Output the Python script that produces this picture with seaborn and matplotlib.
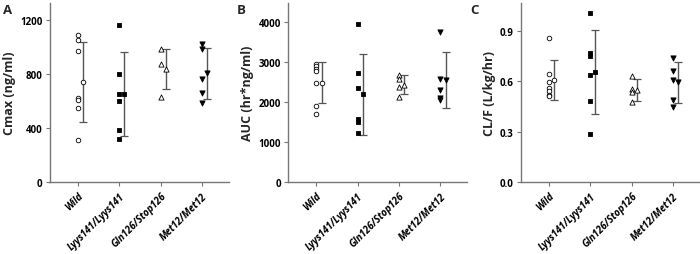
import numpy as np
import pandas as pd
import matplotlib
matplotlib.use("Agg")
import matplotlib.pyplot as plt
import seaborn as sns

# ---------------- data ----------------
categories = ["Wild", "Lyys141/Lyys141", "Gln126/Stop126", "Met12/Met12"]

cmax_wild = [1092, 1052, 977, 622, 610, 552, 315]
cmax_lyys = [1167, 802, 655, 600, 390, 320]
cmax_gln = [990, 877, 632]
cmax_met = [1022, 990, 767, 662, 585]
cmax_mean = [745, 655, 842, 807]
cmax_sd = [298, 310, 148, 190]

auc_wild = [2958, 2892, 2817, 2767, 2483, 1892, 1692]
auc_lyys = [3942, 2717, 2358, 1583, 1500, 1217]
auc_gln = [2683, 2583, 2383, 2133]
auc_met = [3750, 2583, 2292, 2100, 2050]
auc_mean = [2483, 2192, 2433, 2550]
auc_sd = [508, 1010, 238, 700]

clf_wild = [0.856, 0.642, 0.596, 0.560, 0.540, 0.520, 0.510]
clf_lyys = [1.004, 0.768, 0.752, 0.636, 0.484, 0.288]
clf_gln = [0.632, 0.552, 0.536, 0.476]
clf_met = [0.736, 0.662, 0.608, 0.486, 0.446]
clf_mean = [0.606, 0.654, 0.548, 0.592]
clf_sd = [0.118, 0.248, 0.066, 0.120]

panel_letters = ["A", "B", "C"]
ylabels = ["Cmax (ng/ml)", "AUC (hr*ng/ml)", "CL/F (L/kg/hr)"]
yticks = [[0, 400, 800, 1200], [0, 1000, 2000, 3000, 4000], [0.0, 0.3, 0.6, 0.9]]
yticklabels = [["0", "400", "800", "1200"], ["0", "1000", "2000", "3000", "4000"],
               ["0.0", "0.3", "0.6", "0.9"]]
ylims = [(0, 1330), (0, 4470), (0, 1.065)]

panels = [
    ([cmax_wild, cmax_lyys, cmax_gln, cmax_met], cmax_mean, cmax_sd),
    ([auc_wild, auc_lyys, auc_gln, auc_met], auc_mean, auc_sd),
    ([clf_wild, clf_lyys, clf_gln, clf_met], clf_mean, clf_sd),
]

# ---------------- style ----------------
sns.set_theme(style="ticks")
plt.rcParams["font.family"] = ["Open Sans", "DejaVu Sans"]

marker_styles = [
    dict(marker="o", facecolor="white", edgecolor="black", s=11),
    dict(marker="s", facecolor="black", edgecolor="black", s=11),
    dict(marker="^", facecolor="white", edgecolor="black", s=14),
    dict(marker="v", facecolor="black", edgecolor="black", s=14),
]
mean_offset = 0.13
spine_color = "#777777"

fig = plt.figure(figsize=(7.0, 2.55), dpi=100)
lefts = [49.5 / 700, 288 / 700, 520.5 / 700]
width = 179 / 700
bottom = 1 - 183 / 255
height = 179 / 255

for i, (groups, means, sds) in enumerate(panels):
    ax = fig.add_axes([lefts[i], bottom, width, height])
    rows = []
    for gi, vals in enumerate(groups):
        for v in vals:
            rows.append({"group": categories[gi], "pos": gi, "value": v})
    df = pd.DataFrame(rows)
    for gi, cat in enumerate(categories):
        sub = df[df["group"] == cat]
        st = marker_styles[gi]
        sns.scatterplot(data=sub, x="pos", y="value", ax=ax, marker=st["marker"],
                        s=st["s"], facecolor=st["facecolor"], edgecolor=st["edgecolor"],
                        linewidth=0.6, legend=False, zorder=3)
        ax.errorbar(gi + mean_offset, means[gi], yerr=sds[gi], fmt="none",
                    ecolor="#555555", elinewidth=1.0, capsize=3.2, capthick=0.9, zorder=2)
        ax.scatter([gi + mean_offset], [means[gi]], marker=st["marker"], s=st["s"],
                   facecolor=st["facecolor"], edgecolor=st["edgecolor"],
                   linewidth=0.6, zorder=4)

    ax.set_xlim(-0.68, 3.64)
    ax.set_ylim(*ylims[i])
    ax.set_xticks(range(len(categories)))
    ax.set_xticklabels(categories, rotation=45, ha="right", rotation_mode="anchor",
                       fontsize=7, fontweight="bold", fontstyle="italic")
    ax.set_yticks(yticks[i])
    ax.set_yticklabels(yticklabels[i], fontsize=7, fontweight="bold")
    ax.set_xlabel("")
    ax.set_ylabel(ylabels[i], fontsize=9, fontweight="bold", labelpad=3)
    for side in ["top", "right"]:
        ax.spines[side].set_visible(False)
    for side in ["left", "bottom"]:
        ax.spines[side].set_color(spine_color)
        ax.spines[side].set_linewidth(1.0)
    ax.tick_params(axis="both", colors=spine_color, length=3, width=0.8, labelcolor="black")
    ax.tick_params(axis="y", pad=2)
    ax.tick_params(axis="x", pad=3)
    ax.set_facecolor("white")

letter_x = [3 / 700, 237 / 700, 470 / 700]
for i, letter in enumerate(panel_letters):
    fig.text(letter_x[i], 1 - 10 / 255, letter, fontsize=9.5, fontweight="bold",
             ha="left", va="center")

fig.savefig("out.png", dpi=100, facecolor="white")
